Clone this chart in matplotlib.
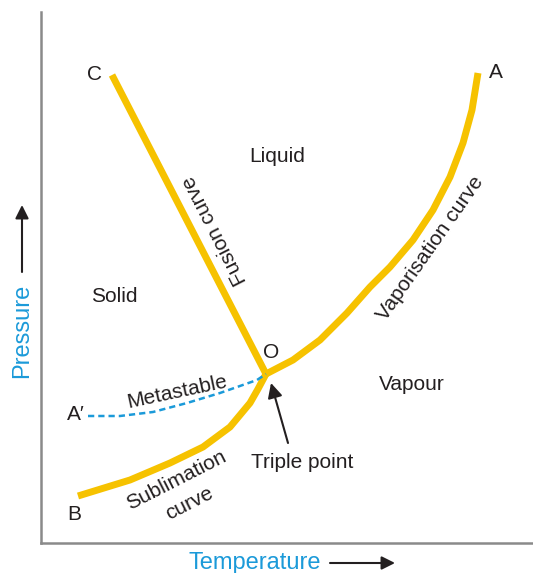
import matplotlib
matplotlib.use('Agg')
import matplotlib.pyplot as plt

plt.rcParams['font.family'] = ['Liberation Sans', 'DejaVu Sans']

# phase diagram curves (arbitrary temperature / pressure units)
fusion_t = [71, 225]
fusion_p = [468, 169]

vap_t = [225, 252, 279, 306, 329, 349, 372, 392, 409, 422, 431, 437]
vap_p = [169, 183, 203, 230, 256, 276, 303, 333, 366, 400, 433, 470]

subl_t = [225, 217, 209, 189, 162, 129, 89, 37]
subl_p = [169, 154, 140, 116, 96, 80, 63, 47]

meta_t = [47, 79, 112, 146, 179, 216, 225]
meta_p = [127, 127, 131, 140, 150, 163, 169]

YELLOW = '#F6C200'
BLUE = '#1B9AD9'
INK = '#231F20'

fig = plt.figure(figsize=(5.33, 5.73), dpi=100)
ax = fig.add_axes([41 / 533, 30 / 573, 492 / 533, 531 / 573])
ax.set_xlim(0, 492)
ax.set_ylim(0, 531)
ax.set_xticks([])
ax.set_yticks([])
for side in ['top', 'right']:
    ax.spines[side].set_visible(False)
for side in ['left', 'bottom']:
    ax.spines[side].set_color('#8a8a8a')
    ax.spines[side].set_linewidth(1.8)

ax.plot(fusion_t, fusion_p, color=YELLOW, lw=5, solid_capstyle='butt')
ax.plot(vap_t, vap_p, color=YELLOW, lw=5, solid_capstyle='butt', solid_joinstyle='round')
ax.plot(subl_t, subl_p, color=YELLOW, lw=5, solid_capstyle='butt', solid_joinstyle='round')
ax.plot(meta_t, meta_p, color=BLUE, lw=1.8, dashes=(2.5, 1.6))

fs = 15
ax.text(54, 469, 'C', fontsize=fs, color=INK, ha='center', va='center')
ax.text(455, 470, 'A', fontsize=fs, color=INK, ha='center', va='center')
ax.text(33, 28, 'B', fontsize=fs, color=INK, ha='center', va='center')
ax.text(35, 129, 'A\u2032', fontsize=fs, color=INK, ha='center', va='center')
ax.text(230, 191, 'O', fontsize=fs, color=INK, ha='center', va='center')

ax.text(236, 386, 'Liquid', fontsize=fs, color=INK, ha='center', va='center')
ax.text(73, 247, 'Solid', fontsize=fs, color=INK, ha='center', va='center')
ax.text(371, 159, 'Vapour', fontsize=fs, color=INK, ha='center', va='center')

ax.text(174, 313, 'Fusion curve', fontsize=fs, color=INK, ha='center', va='center',
        rotation=117, rotation_mode='anchor')
ax.text(389, 295, 'Vaporisation curve', fontsize=fs, color=INK, ha='center', va='center',
        rotation=55, rotation_mode='anchor')
ax.text(136, 151, 'Metastable', fontsize=fs, color=INK, ha='center', va='center',
        rotation=12, rotation_mode='anchor')
ax.text(135, 63, 'Sublimation', fontsize=fs, color=INK, ha='center', va='center',
        rotation=27, rotation_mode='anchor')
ax.text(148, 40, 'curve', fontsize=fs, color=INK, ha='center', va='center',
        rotation=27, rotation_mode='anchor')

ax.text(261, 81, 'Triple point', fontsize=fs, color=INK, ha='center', va='center')
ax.annotate('', xy=(230, 160), xytext=(247, 100),
            arrowprops=dict(arrowstyle='-|>', color=INK, lw=1.5, mutation_scale=22,
                            shrinkA=0, shrinkB=0))

# axis titles with arrows
ax.text(-19, 212, 'Pressure', fontsize=17, color=BLUE, ha='center', va='center',
        rotation=90, clip_on=False)
ax.annotate('', xy=(-19, 338), xytext=(-19, 271), annotation_clip=False,
            arrowprops=dict(arrowstyle='-|>', color=INK, lw=1.5, mutation_scale=20,
                            shrinkA=0, shrinkB=0))
ax.text(214, -20, 'Temperature', fontsize=17, color=BLUE, ha='center', va='center',
        clip_on=False)
ax.annotate('', xy=(354, -20), xytext=(289, -20), annotation_clip=False,
            arrowprops=dict(arrowstyle='-|>', color=INK, lw=1.5, mutation_scale=20,
                            shrinkA=0, shrinkB=0))

plt.savefig('out.png', dpi=100)
plt.close()
